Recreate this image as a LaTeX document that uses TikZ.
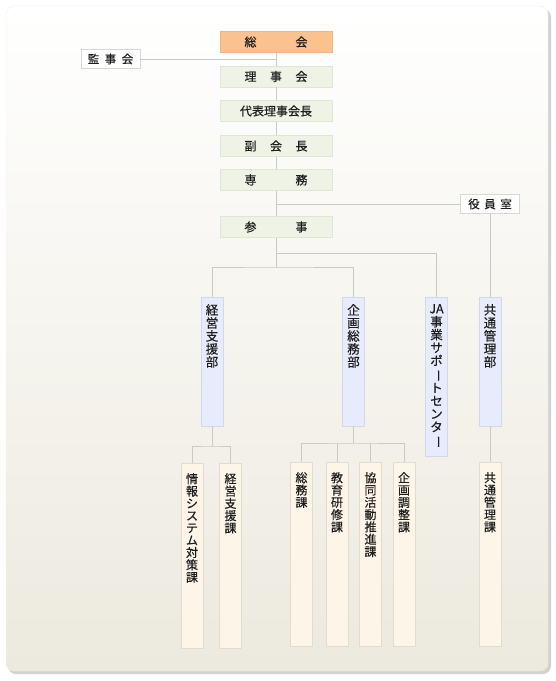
\documentclass[tikz,border=0pt]{standalone}
\usepackage{fontspec}
\setmainfont{Noto Sans CJK JP}[FakeBold=0.35]
\usepackage{graphicx}

\definecolor{linegray}{HTML}{C9C9C9}
\definecolor{textgray}{HTML}{1E1E1E}
\definecolor{orangefill}{HTML}{FBC18F}
\definecolor{orangeline}{HTML}{F2B382}
\definecolor{greenfill}{HTML}{EEF3E5}
\definecolor{greenline}{HTML}{DFE6D5}
\definecolor{bluefill}{HTML}{E8EBFB}
\definecolor{blueline}{HTML}{D3D7EA}
\definecolor{creamfill}{HTML}{FDF5E8}
\definecolor{creamline}{HTML}{E3DCCD}
\definecolor{sideline}{HTML}{D8D8D8}
\definecolor{framegray}{HTML}{D2D2D0}
\definecolor{framebeige}{HTML}{ECE9DE}
\definecolor{frameline}{HTML}{EFEDE6}

% vertical text column: height, top gap, lines
\newcommand\tate[3]{\parbox[c][#1][t]{22bp}{\centering\vspace*{#2}#3}}
\newcommand\cho{\rotatebox[origin=c]{-90}{ー}}

\tikzset{
    line/.style={draw=linegray, line width=0.8bp},
    topbox/.style={draw=greenline, fill=greenfill, minimum width=112bp, minimum height=21bp,
        inner sep=0pt, text=textgray, font=\fontsize{12bp}{12bp}\selectfont},
    sidebox/.style={draw=sideline, fill=white, minimum width=59bp, minimum height=19bp,
        inner sep=0pt, text=textgray, font=\fontsize{11.5bp}{11.5bp}\selectfont},
    deptbox/.style={draw=blueline, fill=bluefill, inner sep=0pt, anchor=north,
        text=textgray, font=\fontsize{12.5bp}{13bp}\selectfont},
    secbox/.style={draw=creamline, fill=creamfill, inner sep=0pt, anchor=north,
        text=textgray, font=\fontsize{12bp}{12.3bp}\selectfont},
}

\begin{document}
\begin{tikzpicture}[x=1bp, y=-1bp]
    \useasboundingbox (0,0) rectangle (556,681);
    % frame
    \fill[framegray, rounded corners=8bp] (8,9) rectangle (551,674);
    \shade[rounded corners=8bp, top color=white, middle color=white, bottom color=framebeige, draw=frameline]
        (6,6) rectangle (548,671);

    % board
    \node[topbox, fill=orangefill, draw=orangeline] (soukai) at (276,42) {総\hspace{39bp}会};
    \node[topbox] (riji) at (276,76.5) {理\hspace{13.5bp}事\hspace{13.5bp}会};
    \node[topbox] (daihyo) at (276,111) {代表理事会長};
    \node[topbox] (fuku) at (276,146) {副\hspace{13.5bp}会\hspace{13.5bp}長};
    \node[topbox] (senmu) at (276,180) {専\hspace{39bp}務};
    \node[topbox] (sanji) at (276,227) {参\hspace{39bp}事};
    \node[sidebox] (kanji) at (110.5,59) {監\hspace{5.5bp}事\hspace{5.5bp}会};
    \node[sidebox] (yakuin) at (490,204) {役\hspace{4.5bp}員\hspace{4.5bp}室};

    \foreach \a/\b in {soukai/riji, riji/daihyo, daihyo/fuku, fuku/senmu, senmu/sanji}
        \draw[line] (\a.south) -- (\b.north);
    \draw[line] (kanji.east) -- (kanji.east -| soukai.south);
    \draw[line] (yakuin.west) -- (yakuin.west -| senmu.south);

    % departments
    \node[deptbox] (keiei) at (212,297) {\tate{129bp}{7bp}{経\\営\\支\\援\\部}};
    \node[deptbox] (kikaku) at (353.5,297) {\tate{129bp}{7bp}{企\\画\\総\\務\\部}};
    \node[deptbox] (ja) at (436.5,297) {\tate{159bp}{7bp}{JA\\事\\業\\サ\\ポ\\\cho\\ト\\セ\\ン\\タ\\\cho}};
    \node[deptbox] (kyotsu) at (490,297) {\tate{129bp}{7bp}{共\\通\\管\\理\\部}};

    \coordinate (bus1) at (276,267);
    \coordinate (bus2) at (276,253);
    \draw[line] (sanji.south) -- (bus1);
    \draw[line] (bus2) -| (ja.north);
    \draw[line] (keiei.north) |- (bus1) -| (kikaku.north);
    \draw[line] (yakuin.south) -- (kyotsu.north);

    % sections
    \node[secbox] (joho) at (192,463) {\tate{185bp}{10bp}{情\\報\\シ\\ス\\テ\\ム\\対\\策\\課}};
    \node[secbox] (keika) at (230.5,463) {\tate{185bp}{10bp}{経\\営\\支\\援\\課}};
    \node[secbox] (soumu) at (301.5,462) {\tate{184bp}{10bp}{総\\務\\課}};
    \node[secbox] (kyoiku) at (337,462) {\tate{184bp}{10bp}{教\\育\\研\\修\\課}};
    \node[secbox] (kyodo) at (370.5,462) {\tate{184bp}{10bp}{協\\同\\活\\動\\推\\進\\課}};
    \node[secbox] (kikaka) at (404,462) {\tate{184bp}{10bp}{企\\画\\調\\整\\課}};
    \node[secbox] (kyoka) at (490,462) {\tate{184bp}{10bp}{共\\通\\管\\理\\課}};

    \coordinate (kbus) at (212,446);
    \coordinate (sbus) at (353.5,443);
    \draw[line] (keiei.south) -- (kbus);
    \draw[line] (joho.north) |- (kbus) -| (keika.north);
    \draw[line] (kikaku.south) -- (sbus);
    \draw[line] (soumu.north) |- (sbus) -| (kikaka.north);
    \foreach \s in {kyoiku, kyodo}
        \draw[line] (\s.north) -- (\s.north |- sbus);
    \draw[line] (kyotsu.south) -- (kyoka.north);
\end{tikzpicture}
\end{document}
